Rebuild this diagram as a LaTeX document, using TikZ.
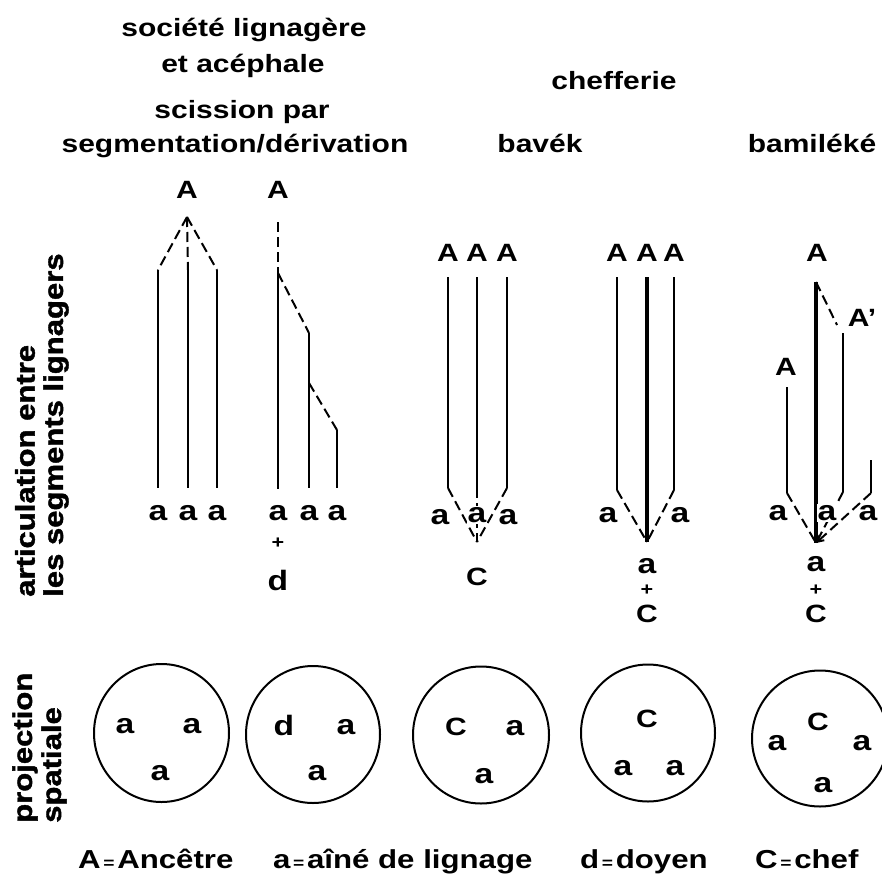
\documentclass[tikz,border=0pt]{standalone}
\usepackage{fontspec}
\setmainfont{Liberation Sans}[FakeStretch=1.2]
\newfontfamily\heavyfont{Liberation Sans}[FakeStretch=1.15, FakeBold=1.5]
\usetikzlibrary{arrows.meta}

\tikzset{
  lbl/.style={inner sep=0pt, font=\bfseries\fontsize{28}{28}\selectfont},
  caplbl/.style={inner sep=0pt, font=\bfseries\fontsize{25}{25}\selectfont},
  plus/.style={inner sep=0pt, font=\bfseries\fontsize{18}{18}\selectfont},
  ttl/.style={inner sep=0pt, anchor=base, font=\bfseries\fontsize{25}{25}\selectfont},
  side/.style={inner sep=0pt, rotate=90, anchor=west, font=\heavyfont\bfseries\fontsize{27}{27}\selectfont},
  leg/.style={inner sep=0pt, anchor=base west, font=\bfseries\fontsize{26}{26}\selectfont},
  seg/.style={line width=2.3pt},
  thickseg/.style={line width=3.2pt},
  link/.style={line width=2pt, dash pattern=on 10pt off 5pt},
  zone/.style={line width=2pt},
}

\begin{document}
\begin{tikzpicture}[x=1pt,y=-1pt]

\useasboundingbox (0,0) rectangle (882,888);

% titles
\node[ttl] (t1) at (244,37) {société lignagère};
\node[ttl] (t2) at (243,73) {et acéphale};
\node[ttl] (t3) at (614,90) {chefferie};
\node[ttl] (t4) at (242,118) {scission par};
\node[ttl] (t5) at (235,152) {segmentation/dérivation};
\node[ttl] (t6) at (540,152) {bavék};
\node[ttl] (t7) at (812,152) {bamiléké};

% side labels
\node[side] (s1) at (25,597) {articulation entre};
\node[side] (s2) at (56,597) {les segments lignagers};
\node[side] (s3) at (25,823) {projection};
\node[side] (s4) at (54,823) {spatiale};

% segmentation
\node[caplbl] (A1) at (187,190) {A};
\coordinate (p1) at (187,217);
\draw[link] (p1) -- (158,270);
\draw[link] (p1) -- (188,270);
\draw[link] (p1) -- (217,270);
\draw[seg] (158,270) -- (158,488);
\draw[seg] (188,270) -- (188,488);
\draw[seg] (217,270) -- (217,488);
\node[lbl] (a11) at (158,513) {a};
\node[lbl] (a12) at (188,513) {a};
\node[lbl] (a13) at (217,513) {a};

% derivation
\node[caplbl] (A2) at (278,190) {A};
\coordinate (p2) at (278,222);
\coordinate (q21) at (278,273);
\coordinate (q22) at (309,333);
\coordinate (q23) at (309,383);
\coordinate (q24) at (337,430);
\draw[link] (p2) -- (q21);
\draw[link] (q21) -- (q22);
\draw[link] (q23) -- (q24);
\draw[seg] (q21) -- (278,489);
\draw[seg] (q22) -- (309,488);
\draw[seg] (q24) -- (337,488);
\node[lbl] (a21) at (278,513) {a};
\node[lbl] (a22) at (309,513) {a};
\node[lbl] (a23) at (337,513) {a};
\node[plus] (pl2) at (278,543) {+};
\node[lbl] (d2) at (278,580) {d};

% bavek
\node[caplbl] (A31) at (448,253) {A};
\node[caplbl] (A32) at (477,253) {A};
\node[caplbl] (A33) at (507,253) {A};
\coordinate (b31) at (448,488);
\coordinate (b32) at (477,488);
\coordinate (b33) at (507,488);
\coordinate (c3) at (477,542);
\draw[seg] (448,277) -- (b31);
\draw[seg] (477,277) -- (b32);
\draw[seg] (507,277) -- (b33);
\draw[link] (b31) -- (c3);
\draw[link] (b32) -- (c3);
\draw[link] (b33) -- (c3);
\node[lbl, fill=white, inner sep=1pt] (a31) at (440,517) {a};
\node[lbl, fill=white, inner sep=1pt] (a32) at (477,515) {a};
\node[lbl, fill=white, inner sep=1pt] (a33) at (508,517) {a};
\node[caplbl] (C3) at (477,577) {C};

% chefferie
\node[caplbl] (A41) at (617,253) {A};
\node[caplbl] (A42) at (647,253) {A};
\node[caplbl] (A43) at (674,253) {A};
\coordinate (b41) at (617,490);
\coordinate (b43) at (674,490);
\coordinate (c4) at (647,542);
\draw[seg] (617,277) -- (b41);
\draw[thickseg] (647,277) -- (c4);
\draw[seg] (674,277) -- (b43);
\draw[link] (b41) -- (c4);
\draw[link] (b43) -- (c4);
\node[lbl] (a41) at (608,515) {a};
\node[lbl] (a43) at (680,515) {a};
\node[lbl] (a42) at (647,566) {a};
\node[plus] (pl4) at (647,590) {+};
\node[caplbl] (C4) at (647,614) {C};

% bamileke
\node[caplbl] (A51) at (817,253) {A};
\node[caplbl] (A52) at (862,318) {A'};
\node[caplbl] (A53) at (786,367) {A};
\coordinate (top5) at (816,282);
\coordinate (c5) at (816,543);
\coordinate (b51) at (787,493);
\coordinate (b52) at (843,492);
\coordinate (b53) at (871,493);
\draw[thickseg] (top5) -- (c5);
\draw[link] (top5) -- (837,325);
\draw[seg] (843,333) -- (b52);
\draw[seg] (787,387) -- (b51);
\draw[seg] (871,460) -- (b53);
\draw[link] (b51) -- (c5);
\draw[link] (b52) -- (c5);
\draw[link, -{Straight Barb[length=6pt,width=7pt]}] (b53) -- (c5);
\node[lbl, fill=white, inner sep=1pt] (a51) at (778,513) {a};
\node[lbl, fill=white, inner sep=1pt] (a52) at (827,513) {a};
\node[lbl] (a53) at (868,513) {a};
\node[lbl] (a54) at (816,564) {a};
\node[plus] (pl5) at (816,590) {+};
\node[caplbl] (C5) at (816,614) {C};

% spatial projection
\draw[zone] (161.5,733) ellipse (67.5 and 69);
\node[lbl] (e11) at (125,726) {a};
\node[lbl] (e12) at (192,726) {a};
\node[lbl] (e13) at (160,773) {a};

\draw[zone] (313,734.5) ellipse (67 and 68.5);
\node[lbl] (e21) at (284,725) {d};
\node[lbl] (e22) at (346,727) {a};
\node[lbl] (e23) at (317,773) {a};

\draw[zone] (481,735) ellipse (68 and 68.5);
\node[caplbl] (e31) at (456,727) {C};
\node[lbl] (e32) at (515,728) {a};
\node[lbl] (e33) at (484,776) {a};

\draw[zone] (648,733) ellipse (67 and 68.5);
\node[caplbl] (e41) at (647,719) {C};
\node[lbl] (e42) at (623,768) {a};
\node[lbl] (e43) at (675,768) {a};

\draw[zone] (820,738.5) ellipse (68 and 68);
\node[caplbl] (e51) at (818,722) {C};
\node[lbl] (e52) at (777,743) {a};
\node[lbl] (e53) at (862,743) {a};
\node[lbl] (e54) at (823,785) {a};

% legend
\node[leg] (k1) at (78,868) {A{\fontsize{16}{16}\selectfont\,=\,}Ancêtre};
\node[leg] (k2) at (273,868) {a{\fontsize{16}{16}\selectfont\,=\,}aîné de lignage};
\node[leg] (k3) at (580,868) {d{\fontsize{16}{16}\selectfont\,=\,}doyen};
\node[leg] (k4) at (755,868) {C{\fontsize{16}{16}\selectfont\,=\,}chef};

\end{tikzpicture}
\end{document}
